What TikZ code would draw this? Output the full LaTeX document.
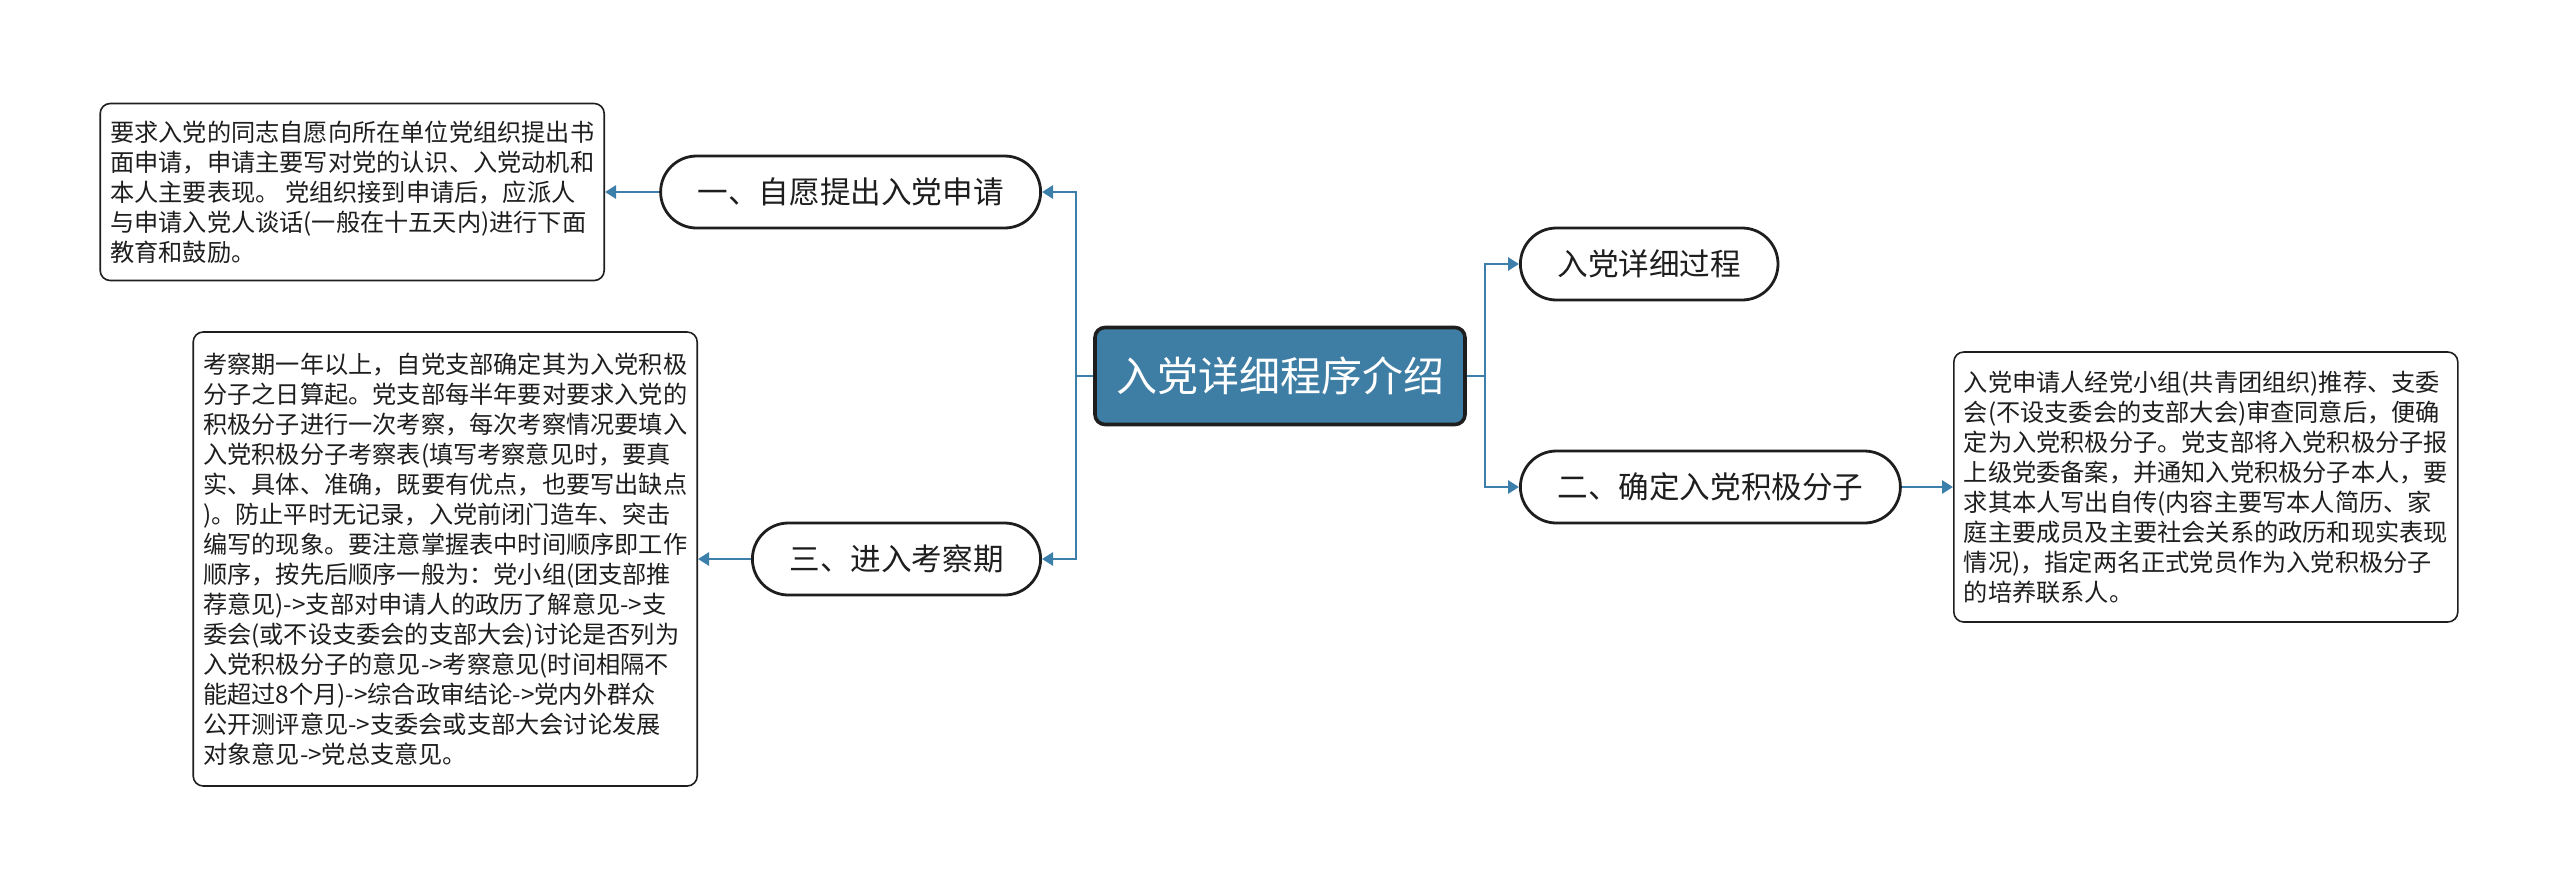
\documentclass[tikz,border=0pt]{standalone}
\usepackage{fontspec}
\setmainfont{Noto Sans CJK SC}
\usepackage{tikz}
\usetikzlibrary{arrows.meta,positioning}
\definecolor{rootcol}{RGB}{62,125,164}
\definecolor{linkcol}{RGB}{61,127,171}
\definecolor{inkcol}{RGB}{30,30,30}
\tikzset{
  root node/.style={rectangle,draw=inkcol,line width=1.8pt,rounded corners=5pt,fill=rootcol,
    text=white,font=\fontsize{20.5}{24}\selectfont,minimum width=185pt,minimum height=48.5pt},
  topic node/.style={rectangle,draw=inkcol,line width=1.4pt,rounded corners=18pt,fill=white,
    text=inkcol,font=\fontsize{15.3}{18}\selectfont,inner xsep=18.5pt,minimum height=36pt},
  note box/.style={rectangle,draw=inkcol,line width=0.8pt,rounded corners=5pt,fill=white,
    text=inkcol,font=\fontsize{12.1}{15}\selectfont,align=left,inner xsep=5pt,inner ysep=6pt},
  link/.style={-{Triangle[length=5.5pt,width=6.5pt]},draw=linkcol,line width=1.4pt}
}

\begin{document}
\begin{tikzpicture}[x=0.5pt,y=-0.5pt]
  \useasboundingbox (0,0) rectangle (2560,890);

  \node[root node] (root) at (1280,376) {入党详细程序介绍};

  \node[topic node,anchor=east] (apply) at (1042,192) {一、自愿提出入党申请};
  \node[topic node,anchor=east] (observe) at (1042,559) {三、进入考察期};
  \node[topic node,anchor=west] (detail) at (1519,264) {入党详细过程};
  \node[topic node,anchor=west] (activist) at (1519,487) {二、确定入党积极分子};

  \node[note box,anchor=east,minimum width=251pt,minimum height=88.5pt] (applynote) at (605,192)
    {要求入党的同志自愿向所在单位党组织提出书\\
     面申请，申请主要写对党的认识、入党动机和\\
     本人主要表现。 党组织接到申请后，应派人\\
     与申请入党人谈话(一般在十五天内)进行下面\\
     教育和鼓励。};
  \node[note box,anchor=east,minimum width=251.5pt,minimum height=227pt] (observenote) at (698,559)
    {考察期一年以上，自党支部确定其为入党积极\\
     分子之日算起。党支部每半年要对要求入党的\\
     积极分子进行一次考察，每次考察情况要填入\\
     入党积极分子考察表(填写考察意见时，要真\\
     实、具体、准确，既要有优点，也要写出缺点\\
     )。防止平时无记录，入党前闭门造车、突击\\
     编写的现象。要注意掌握表中时间顺序即工作\\
     顺序，按先后顺序一般为：党小组(团支部推\\
     荐意见)->支部对申请人的政历了解意见->支\\
     委会(或不设支委会的支部大会)讨论是否列为\\
     入党积极分子的意见->考察意见(时间相隔不\\
     能超过8个月)->综合政审结论->党内外群众\\
     公开测评意见->支委会或支部大会讨论发展\\
     对象意见->党总支意见。};
  \node[note box,anchor=west,minimum width=248.5pt,minimum height=135pt] (activistnote) at (1953,487)
    {入党申请人经党小组(共青团组织)推荐、支委\\
     会(不设支委会的支部大会)审查同意后，便确\\
     定为入党积极分子。党支部将入党积极分子报\\
     上级党委备案，并通知入党积极分子本人，要\\
     求其本人写出自传(内容主要写本人简历、家\\
     庭主要成员及主要社会关系的政历和现实表现\\
     情况)，指定两名正式党员作为入党积极分子\\
     的培养联系人。};

  % trunk lines from the root
  \coordinate (lspine) at (1076,376);
  \coordinate (rspine) at (1485,376);
  \draw[link,-] (root.west) -- (lspine);
  \draw[link,-] (root.east) -- (rspine);
  \draw[link] (lspine) |- (apply.east);
  \draw[link] (lspine) |- (observe.east);
  \draw[link] (rspine) |- (detail.west);
  \draw[link] (rspine) |- (activist.west);

  % topic to note
  \draw[link] (apply.west) -- (applynote.east |- apply.west);
  \draw[link] (observe.west) -- (observenote.east |- observe.west);
  \draw[link] (activist.east) -- (activistnote.west |- activist.east);
\end{tikzpicture}
\end{document}
